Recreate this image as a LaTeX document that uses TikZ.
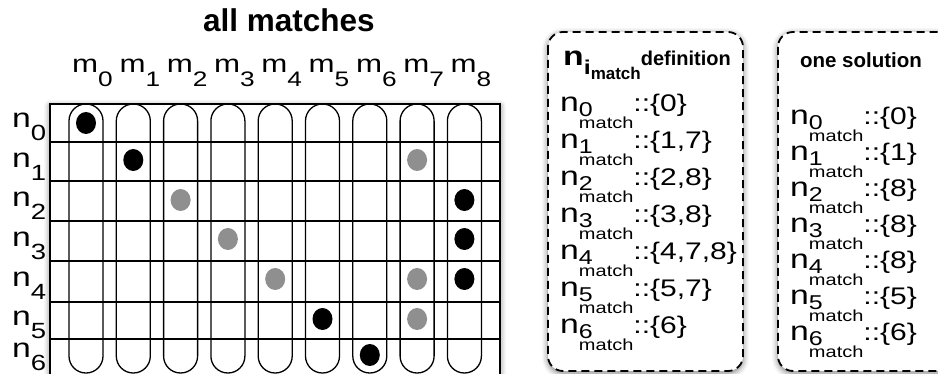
\documentclass[tikz,border=0pt]{standalone}
\usepackage{fontspec}
\newfontfamily\hvfont[FakeStretch=1.25]{Liberation Sans}
\newfontfamily\hvplain{Liberation Sans}
\usepackage{tikz}
\usetikzlibrary{shadows.blur}
\definecolor{DotGray}{HTML}{8F8F8F}
\newcommand{\fsz}[1]{\fontsize{#1}{#1}\selectfont}
\newcommand{\rowlbl}[1]{n\raisebox{-13pt}{\fsz{22}#1}}
\newcommand{\collbl}[1]{m\raisebox{-14pt}{\fsz{21}#1}}
\newcommand{\mline}[2]{n\raisebox{-5pt}{\rlap{\fsz{20}#1}}\raisebox{-17pt}{\fsz{16}match}{\fsz{24}::\{#2\}}}
\tikzset{
  shd/.style={blur shadow={shadow xshift=0pt, shadow yshift=-2pt,
              shadow blur radius=6pt, shadow opacity=55}},
  gridline/.style={line width=1.6pt},
  pill/.style={line width=1.3pt, rounded corners=16.9pt},
  hit/.style={fill=black},
  alt/.style={fill=DotGray},
  lab/.style={anchor=base west, inner sep=0pt, font=\hvfont\fsz{#1}},
  hdr/.style={anchor=base, inner sep=0pt, font=\hvplain\bfseries\fsz{#1}},
  dashbox/.style={draw, fill=white, shd, line width=1.8pt,
                  dash pattern=on 8pt off 5pt, rounded corners=15pt},
}

\begin{document}
\begin{tikzpicture}[x=1pt, y=-1pt]
  \clip (0,0) rectangle (938,374);

  % Title
  \node[hdr=31.5] (allhdr) at (289,32) {all matches};

  % Grid
  \fill[white, shd] (50,104) rectangle (500,390);
  \foreach \y in {142,181,221,261,302,339}
    \draw[gridline] (50,\y) -- (500,\y);
  \foreach \i in {0,...,8}
    \draw[pill] ({86+47.3*\i-17},104) rectangle ({86+47.3*\i+17},373);
  \draw[gridline] (50,104) rectangle (500,390);

  % Column labels
  \foreach \i in {0,...,8}
    \node[lab=25] (m\i) at ({86+47.3*\i-14},73) {\collbl{\i}};

  % Row labels
  \foreach \k/\y in {0/128,1/168,2/207,3/247,4/287,5/326,6/358}
    \node[lab=27] (n\k) at (12,\y) {\rowlbl{\k}};

  % Matches
  \foreach \c/\y/\s in {0/123/hit, 1/160/hit, 7/160/alt, 2/200/alt, 8/200/hit,
                        3/239/alt, 8/239/hit, 4/279/alt, 7/279/alt, 8/279/hit,
                        5/319/hit, 7/319/alt, 6/355/hit}
    \fill[\s] ({86+47.3*\c},\y) ellipse [x radius=10, y radius=11];

  % Definition box
  \draw[dashbox] (548,32) rectangle (743,371);
  \node[anchor=base west, inner sep=0pt] (defhdr) at (563,66)
    {\hvfont\bfseries\fsz{27}n\raisebox{-9pt}{\fsz{20}i}\raisebox{-14pt}{\hvplain\fsz{17}match}%
     {\hvplain\fsz{20}definition}};
  \foreach \k/\v [count=\j from 0] in {0/0,1/{1,7},2/{2,8},3/{3,8},4/{4,7,8},5/{5,7},6/6}
    \node[lab=27] (d\k) at (560,{112+36.9*\j}) {\mline{\k}{\v}};

  % Solution box
  \draw[dashbox] (778,32) rectangle (952,371);
  \node[hdr=20.5] (solhdr) at (861,68) {one solution};
  \foreach \k/\v [count=\j from 0] in {0/0,1/1,2/8,3/8,4/8,5/5,6/6}
    \node[lab=27] (s\k) at (790,{125+36*\j}) {\mline{\k}{\v}};

\end{tikzpicture}
\end{document}
